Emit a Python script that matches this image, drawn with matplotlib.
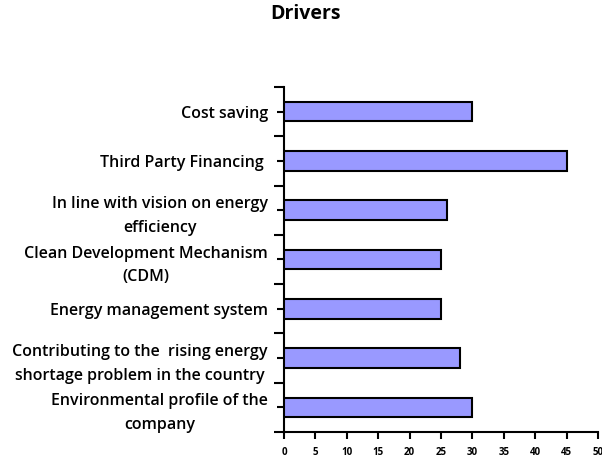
import matplotlib
matplotlib.use("Agg")
import matplotlib.pyplot as plt
import numpy as np

categories = [
    "Cost saving",
    "Third Party Financing ",
    "In line with vision on energy\nefficiency",
    "Clean Development Mechanism\n(CDM)",
    "Energy management system",
    "Contributing to the  rising energy\nshortage problem in the country",
    "Environmental profile of the\ncompany",
]
values = [30, 45, 26, 25, 25, 28, 30]
xticks = [0, 5, 10, 15, 20, 25, 30, 35, 40, 45, 50]

plt.rcParams['font.family'] = ['Open Sans', 'DejaVu Sans']

fig = plt.figure(figsize=(6.02, 4.61), dpi=100)
ax = fig.add_axes([284/602, 1 - 432/461, (598 - 284)/602, (432 - 87)/461])

n = len(categories)
y = np.arange(n)[::-1]
ax.barh(y, values, height=0.4, color='#9999ff', edgecolor='black', linewidth=1.5, zorder=3)

ax.set_xlim(0, 50)
ax.set_ylim(-0.5, n - 0.5)
ax.set_xticks(xticks)
ax.set_xticklabels([str(t) for t in xticks], fontsize=7, fontweight='bold')
ax.set_yticks(y)
ax.set_yticklabels(categories, fontsize=11.5, fontweight='semibold', ha='center',
                   multialignment='center', linespacing=1.65)
ax.set_yticks(np.arange(n + 1) - 0.5, minor=True)
ax.tick_params(axis='y', which='major', length=5, width=1.5, pad=0)
ax.tick_params(axis='y', which='minor', length=7, width=1.5)
ax.tick_params(axis='x', which='major', length=5, width=1.5, pad=6)

fig.canvas.draw()
renderer = fig.canvas.get_renderer()
for lbl in ax.get_yticklabels():
    lbl.set_horizontalalignment('center')
    bb = lbl.get_window_extent(renderer)
    w = bb.width
    lbl.set_x(-(16 + w / 2) / (ax.bbox.width))
    lbl.set_transform(ax.get_yaxis_transform())

for s in ['top', 'right']:
    ax.spines[s].set_visible(False)
for s in ['left', 'bottom']:
    ax.spines[s].set_linewidth(1.5)

fig.text(306/602, 1 - 14/461, "Drivers", fontsize=14, fontweight='bold', ha='center', va='center')

fig.savefig("out.png", dpi=100)
